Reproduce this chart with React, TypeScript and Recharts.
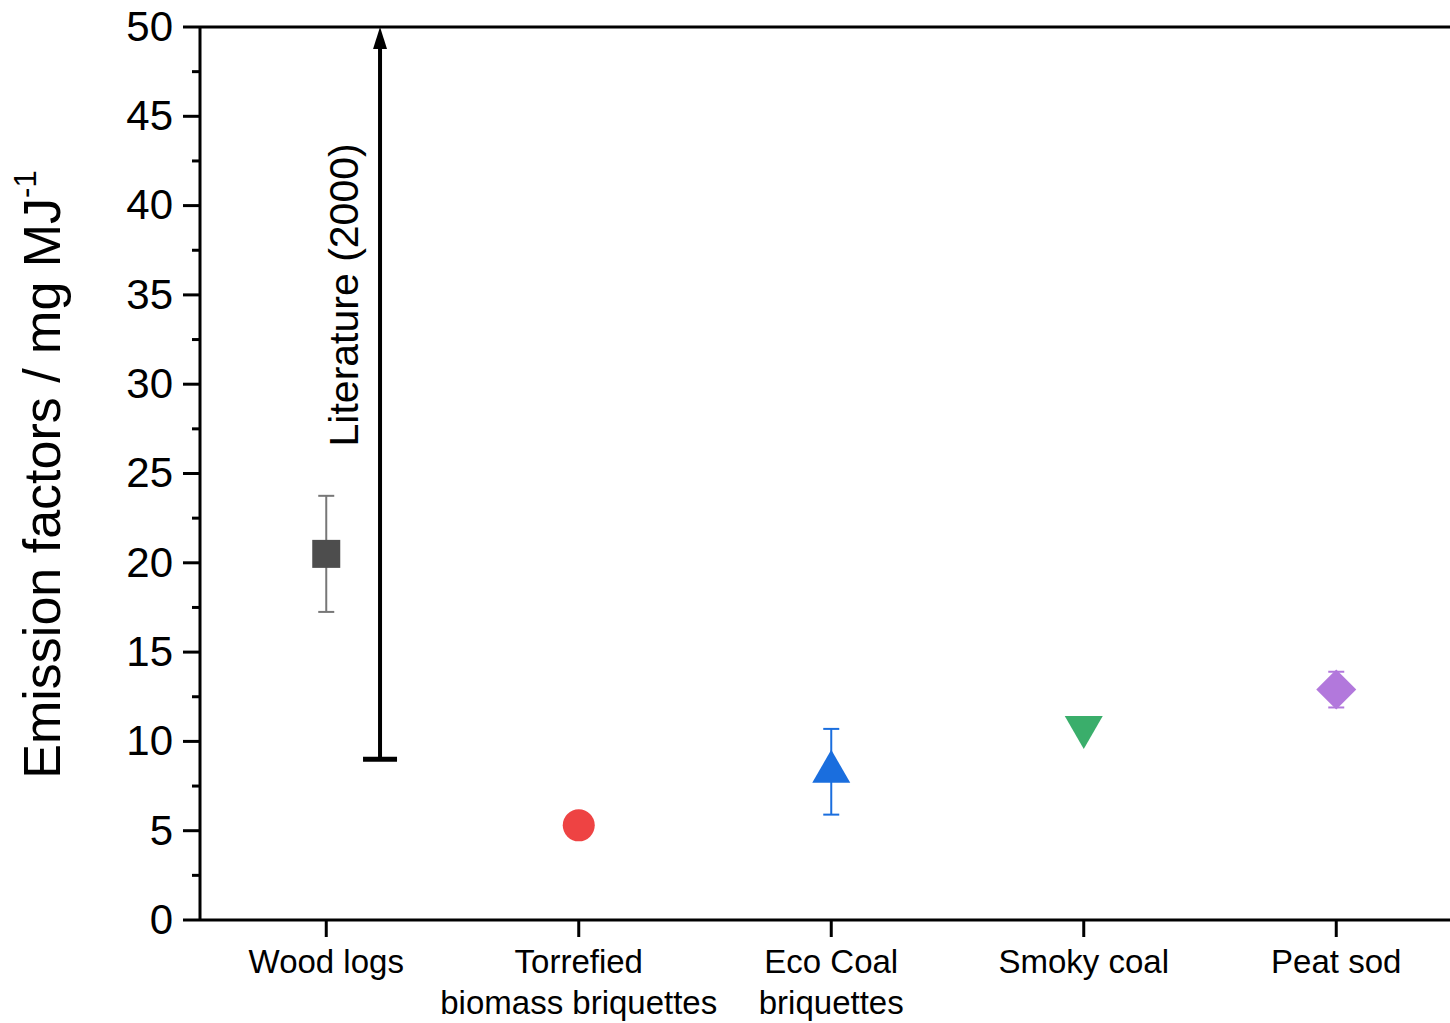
import React from 'react';
import { ScatterChart, Scatter, XAxis, YAxis, ErrorBar, ReferenceLine, ReferenceDot } from 'recharts';

// fuel types on the x axis (\n splits the tick label into lines)
const categories = ['Wood logs', 'Torrefied\nbiomass briquettes', 'Eco Coal\nbriquettes', 'Smoky coal', 'Peat sod'];
const categoryPos = [0.5, 1.5, 2.5, 3.5, 4.5];
const emission = [20.5, 5.3, 8.3, 10.8, 12.9];
const emissionErr = [3.25, 0, 2.4, 0, 1.0];
const markerColors = ['#4d4d4d', '#ee4343', '#1a6ede', '#3aae6b', '#b278dc'];
const errColors = ['#777777', '#ee4343', '#1a6ede', '#3aae6b', '#b278dc'];
const markerKinds = ['square', 'circle', 'triangleUp', 'triangleDown', 'diamond'];

// literature range (arrow)
const literatureX = 0.713;
const literatureRange = [9, 50];
const literatureLabelY = 35;

const yTicks = [0, 2.5, 5, 7.5, 10, 12.5, 15, 17.5, 20, 22.5, 25, 27.5, 30, 32.5, 35, 37.5, 40, 42.5, 45, 47.5, 50];

const FONT = '"Liberation Sans", Arial, sans-serif';

const Marker = ({ cx, cy, kind, color }: any) => {
  if (cx == null || cy == null) return null;
  switch (kind) {
    case 'square':
      return <rect x={cx - 14} y={cy - 14} width={28} height={28} fill={color} />;
    case 'circle':
      return <circle cx={cx} cy={cy} r={16} fill={color} />;
    case 'triangleUp':
      return <polygon points={`${cx},${cy - 22} ${cx + 19},${cy + 11} ${cx - 19},${cy + 11}`} fill={color} />;
    case 'triangleDown':
      return <polygon points={`${cx - 19},${cy - 11} ${cx + 19},${cy - 11} ${cx},${cy + 22}`} fill={color} />;
    default:
      return <polygon points={`${cx},${cy - 20} ${cx + 20},${cy} ${cx},${cy + 20} ${cx - 20},${cy}`} fill={color} />;
  }
};

const YTick = ({ x, y, payload }: any) => {
  const major = payload.value % 5 === 0;
  return (
    <g>
      <line x1={x - (major ? 17 : 8)} x2={x} y1={y} y2={y} stroke="#000" strokeWidth={3} />
      {major && (
        <text x={x - 27} y={y} dy="0.33em" textAnchor="end" fontSize={42} fontFamily={FONT} fill="#000">
          {payload.value}
        </text>
      )}
    </g>
  );
};

const XTick = ({ x, y, payload }: any) => {
  const idx = categoryPos.indexOf(payload.value);
  const lines = (categories[idx] || '').split('\n');
  return (
    <g>
      <line x1={x} x2={x} y1={y} y2={y + 17} stroke="#000" strokeWidth={3} />
      {lines.map((t, i) => (
        <text key={i} x={x} y={y + 53 + i * 41} textAnchor="middle" fontSize={33} fontFamily={FONT} fill="#000">
          {t}
        </text>
      ))}
    </g>
  );
};

const YTitle = ({ viewBox }: any) => {
  const cx = 60;
  const cy = viewBox.y + viewBox.height / 2 + 1;
  return (
    <text x={cx} y={cy} transform={`rotate(-90 ${cx} ${cy})`} textAnchor="middle" fontSize={52} fontFamily={FONT} fill="#000">
      Emission factors / mg MJ
      <tspan fontSize={31} dy={-24}>-1</tspan>
    </text>
  );
};

const Arrow = ({ x1, y1, x2, y2 }: any) => (
  <g>
    <line x1={x1} y1={y1} x2={x2} y2={y2 + 18} stroke="#000" strokeWidth={4} />
    <line x1={x1 - 17} y1={y1} x2={x1 + 17} y2={y1} stroke="#000" strokeWidth={5} />
    <polygon points={`${x2},${y2} ${x2 + 7},${y2 + 22} ${x2 - 7},${y2 + 22}`} fill="#000" />
  </g>
);

const LiteratureLabel = ({ cx, cy }: any) => {
  const tx = cx - 22;
  return (
    <text x={tx} y={cy} transform={`rotate(-90 ${tx} ${cy})`} textAnchor="middle" fontSize={41} fontFamily={FONT} fill="#000">
      Literature (2000)
    </text>
  );
};

export default function App() {
  return (
    <div style={{ position: 'absolute', left: 0, top: 0, width: 1450, height: 1023, overflow: 'hidden', background: '#fff' }}>
      <ScatterChart width={1450} height={1023} margin={{ top: 27, right: 0, bottom: 0, left: 0 }}>
        <XAxis
          type="number"
          dataKey="x"
          domain={[0, 4.9505]}
          ticks={categoryPos}
          interval={0}
          allowDataOverflow
          height={103}
          tickSize={0}
          tickMargin={0}
          tickLine={false}
          axisLine={{ stroke: '#000', strokeWidth: 3 }}
          tick={<XTick />}
        />
        <YAxis
          type="number"
          dataKey="y"
          domain={[0, 50]}
          ticks={yTicks}
          interval={0}
          width={200}
          tickSize={0}
          tickMargin={0}
          tickLine={false}
          axisLine={{ stroke: '#000', strokeWidth: 3 }}
          tick={<YTick />}
          label={{ content: <YTitle /> }}
        />
        <ReferenceLine y={50} stroke="#000" strokeWidth={3} />
        <ReferenceLine
          segment={[{ x: literatureX, y: literatureRange[0] }, { x: literatureX, y: literatureRange[1] }]}
          shape={(p: any) => <Arrow {...p} />}
        />
        <ReferenceDot x={literatureX} y={literatureLabelY} shape={(p: any) => <LiteratureLabel {...p} />} />
        {categories.map((c, i) => (
          <Scatter
            key={c}
            name={c}
            data={[{ x: categoryPos[i], y: emission[i], err: emissionErr[i] }]}
            isAnimationActive={false}
            shape={(p: any) => <Marker cx={p.cx} cy={p.cy} kind={markerKinds[i]} color={markerColors[i]} />}
          >
            {emissionErr[i] > 0 && (
              <ErrorBar dataKey="err" direction="y" width={8} stroke={errColors[i]} strokeWidth={2} isAnimationActive={false} />
            )}
          </Scatter>
        ))}
      </ScatterChart>
    </div>
  );
}
